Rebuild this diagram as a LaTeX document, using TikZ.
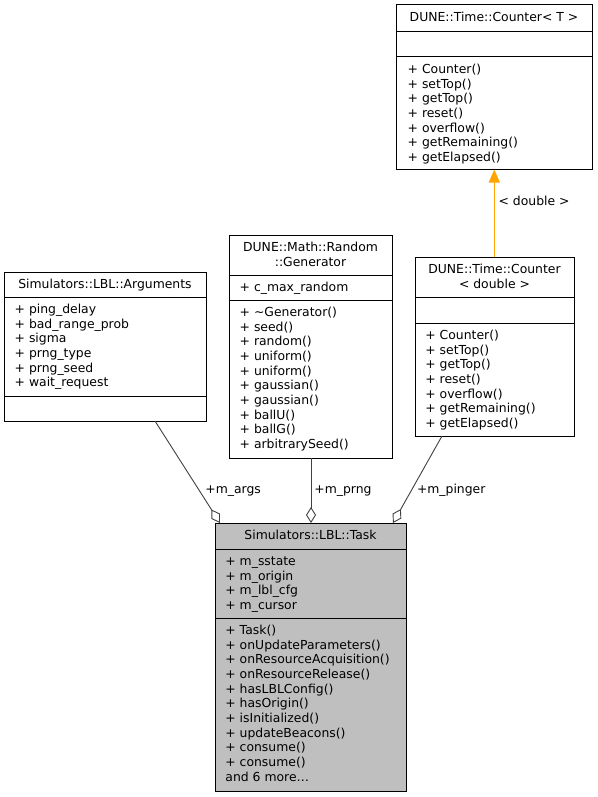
\documentclass[tikz,border=0pt]{standalone}
\usepackage{fontspec}
\setmainfont{DejaVu Sans}
\usetikzlibrary{arrows.meta}
\definecolor{edgegray}{HTML}{404040}
\definecolor{taskfill}{HTML}{BFBFBF}
\definecolor{inhorange}{HTML}{FFA500}
\begin{document}
\begin{tikzpicture}[x=1pt,y=-1pt,
  every node/.style={inner sep=0pt,outer sep=0pt},
  classbox/.style={draw=black,line width=1pt,rectangle},
  sepline/.style={draw=black,line width=1pt},
  txt/.style={anchor=base west,font=\fontsize{12.4}{14.67}\selectfont},
  ttl/.style={anchor=base,font=\fontsize{12.4}{14.67}\selectfont},
  assoc/.style={draw=edgegray,line width=0.9pt,-{Diamond[open,length=16pt,width=10pt,line width=0.9pt]}},
  inherit/.style={draw=inhorange,line width=1.1pt,-{Triangle[length=13pt,width=11pt]}},
  elabel/.style={anchor=base west,font=\fontsize{12.4}{14.67}\selectfont}]
\useasboundingbox (0,0) rectangle (597,797);

% ---------- DUNE::Time::Counter< T >
\node[classbox,minimum width=196pt,minimum height=164pt] (ctr) at (494,87) {};
\draw[sepline] (396,32) -- (592,32);
\draw[sepline] (396,57) -- (592,57);
\node[ttl] (ctrt) at (494,21.5) {DUNE::Time::Counter< T >};
\foreach \t [count=\i from 0] in {{+ Counter()},{+ setTop()},{+ getTop()},{+ reset()},{+ overflow()},{+ getRemaining()},{+ getElapsed()}}
  \node[txt] (ctrm\i) at (407.7,{73.5+14.67*\i}) {\t};

% ---------- Simulators::LBL::Arguments
\node[classbox,minimum width=202pt,minimum height=149pt] (args) at (105,346.5) {};
\draw[sepline] (4,297) -- (206,297);
\draw[sepline] (4,396) -- (206,396);
\node[ttl] (argst) at (105,288.5) {Simulators::LBL::Arguments};
\foreach \t [count=\i from 0] in {{+ ping\_delay},{+ bad\_range\_prob},{+ sigma},{+ prng\_type},{+ prng\_seed},{+ wait\_request}}
  \node[txt] (argsa\i) at (14.7,{313.5+14.67*\i}) {\t};

% ---------- DUNE::Math::Random::Generator
\node[classbox,minimum width=163pt,minimum height=223pt] (gen) at (310.5,346.5) {};
\draw[sepline] (229,275) -- (392,275);
\draw[sepline] (229,300) -- (392,300);
\node[ttl] (gent1) at (310.5,251.5) {DUNE::Math::Random};
\node[ttl] (gent2) at (310.5,266.2) {::Generator};
\node[txt] (gena0) at (239.7,291.5) {+ c\_max\_random};
\foreach \t [count=\i from 0] in {{+ \textasciitilde Generator()},{+ seed()},{+ random()},{+ uniform()},{+ uniform()},{+ gaussian()},{+ gaussian()},{+ ballU()},{+ ballG()},{+ arbitrarySeed()}}
  \node[txt] (genm\i) at (239.7,{316.5+14.67*\i}) {\t};

% ---------- DUNE::Time::Counter< double >
\node[classbox,minimum width=159pt,minimum height=179pt] (ctrd) at (494.5,346.5) {};
\draw[sepline] (415,297) -- (574,297);
\draw[sepline] (415,323) -- (574,323);
\node[ttl] (ctrdt1) at (494.5,273.5) {DUNE::Time::Counter};
\node[ttl] (ctrdt2) at (494.5,288.2) {< double >};
\foreach \t [count=\i from 0] in {{+ Counter()},{+ setTop()},{+ getTop()},{+ reset()},{+ overflow()},{+ getRemaining()},{+ getElapsed()}}
  \node[txt] (ctrdm\i) at (425.4,{339.5+14.67*\i}) {\t};

% ---------- Simulators::LBL::Task
\node[classbox,fill=taskfill,minimum width=191pt,minimum height=268pt] (task) at (310.5,657) {};
\draw[sepline] (215,549) -- (406,549);
\draw[sepline] (215,618) -- (406,618);
\node[ttl] (taskt) at (310.5,539.5) {Simulators::LBL::Task};
\foreach \t [count=\i from 0] in {{+ m\_sstate},{+ m\_origin},{+ m\_lbl\_cfg},{+ m\_cursor}}
  \node[txt] (taska\i) at (225.4,{565.5+14.67*\i}) {\t};
\foreach \t [count=\i from 0] in {{+ Task()},{+ onUpdateParameters()},{+ onResourceAcquisition()},{+ onResourceRelease()},{+ hasLBLConfig()},{+ hasOrigin()},{+ isInitialized()},{+ updateBeacons()},{+ consume()},{+ consume()}}
  \node[txt] (taskm\i) at (225.4,{634.5+14.67*\i}) {\t};
\node[txt] (taskmore) at (225.4,781.2) {and 6 more\dots};

% ---------- connectors
\coordinate (argsout) at (155,421);
\coordinate (argsin) at (220,523);
\coordinate (genout) at (311,458);
\coordinate (genin) at (311,523);
\coordinate (ctrdout) at (442,436);
\coordinate (ctrdin) at (393,523);
\coordinate (ctrdtop) at (494.3,257);
\coordinate (ctrbot) at (494.3,169.5);
\draw[assoc] (argsout) -- (argsin);
\draw[assoc] (genout) -- (genin);
\draw[assoc] (ctrdout) -- (ctrdin);
\draw[inherit] (ctrdtop) -- (ctrbot);

\node[elabel] (largs) at (205.4,493) {+m\_args};
\node[elabel] (lprng) at (314.4,493) {+m\_prng};
\node[elabel] (lping) at (417,493) {+m\_pinger};
\node[elabel] (ldbl) at (498.6,205.5) {< double >};
\end{tikzpicture}
\end{document}
